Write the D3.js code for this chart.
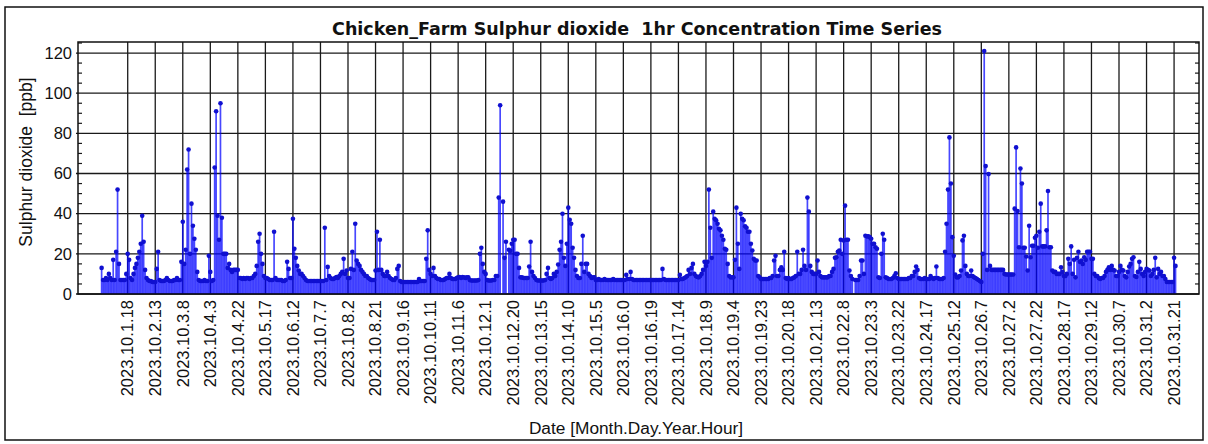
<!DOCTYPE html>
<html lang="en">
<head>
<meta charset="UTF-8" />
<script src="https://d3js.org/d3.v7.min.js"></script>
<title>SO2 time series</title>
<style>
    body { margin: 0; overflow: hidden; background: white; }
    text { font-family: "Liberation Sans", Arial, sans-serif; fill: #111; }
</style>
</head>
<body>
<script>
const chartTitle = "Chicken_Farm Sulphur dioxide  1hr Concentration Time Series";
const yTitle = "Sulphur dioxide  [ppb]";
const xTitle = "Date [Month.Day.Year.Hour]";

// one label every 19 hourly samples, first one at sample 18
const tickLabels = [
    "2023.10.1.18", "2023.10.2.13", "2023.10.3.8", "2023.10.4.3", "2023.10.4.22",
    "2023.10.5.17", "2023.10.6.12", "2023.10.7.7", "2023.10.8.2", "2023.10.8.21",
    "2023.10.9.16", "2023.10.10.11", "2023.10.11.6", "2023.10.12.1", "2023.10.12.20",
    "2023.10.13.15", "2023.10.14.10", "2023.10.15.5", "2023.10.16.0", "2023.10.16.19",
    "2023.10.17.14", "2023.10.18.9", "2023.10.19.4", "2023.10.19.23", "2023.10.20.18",
    "2023.10.21.13", "2023.10.22.8", "2023.10.23.3", "2023.10.23.22", "2023.10.24.17",
    "2023.10.25.12", "2023.10.26.7", "2023.10.27.2", "2023.10.27.22", "2023.10.28.17",
    "2023.10.29.12", "2023.10.30.7", "2023.10.31.2", "2023.10.31.21"
];
const yTicks = [0, 20, 40, 60, 80, 100, 120];

// hourly SO2 [ppb] (null = no sample)
const so2 = [
    13, 7, 7, 8, 7, 10, 8, 7, 17, 7, 21, 52, 15, 7, 7, 7, 7, 10,
    20, 17, 8, 7, 10, 13, 15, 18, 21, 25, 39, 26, 12, 8, 7, 6.5, 6.5, 6, 6,
    6, 12.5, 21, 7, 6.5, 6.5, 6.5, 7, 8, 7, 6.5, 6.5, 6.5, 7, 7, 8, 7, 7, 16,
    36, 15, 22, 62, 72, 20, 45, 34, 27.5, 22, 11, 7, 6.5, 6.5, 6.5, 7, 6.5, 6.5, 19,
    11, 6.5, 7, 63, 91, 39, 27, 95, 38, 20, 20, 20, 13, 15, 12, 11, 12, 12, 12,
    12, 8, 8, 7.5, 8, 7.5, 8, 8, 7.5, 8, 8, 9, 10, 14, 26, 30, 20, 15, 9,
    8, 8, 7.5, 7, 7, 7, 31, 8, 7, 7, 7, 7, 6.5, 6.5, 7, 16, 12.5, 8, 8,
    37.5, 22.5, 18, 14, 11.7, 10, 10, 9, 8, 7, 6.5, 6.5, 6.5, 6.5, 6.5, 6.5, 6.5, 6.5, 6.5,
    6.5, 6.5, 6.5, 33, 7, 13.5, 9, 8, 7.5, 7.5, 8, 8.5, 8, 9, 10, 11, 17.5, 10, 11.7,
    8, 8, 12.5, 21, 12, 35, 16.7, 15, 14, 12, 11, 10, 9, 9, 8, 7.5, 7, 7, 7,
    11.7, 31, 12, 27, 12, 10, 9, 9, 11, 9, 8, 7.5, 7, 7, 8, 12.5, 14, 6.5, 6,
    6, 6, 6, 6, 6, 6, 6, 6, 6, 6, 6, 7.5, 6.5, 6.5, 6.5, 6.5, 17.5, 31.7, 12,
    10, 9, 13, 9, 8, 7.5, 7.5, 7, 7, 7, 7.5, 8, 8, 10, 8, 7.5, 7.5, 7.5, 8,
    8.3, 8.5, 8, 8.5, 8.3, 8, 8.3, 8.3, 7, 6.7, 6.7, 6.7, 6.7, 6.7, 7, 20, 23, 15, 11,
    10, 7, 6.7, 6.7, 6.7, 7, 7, 9, 9, 48, 94, null, 46, 18, 26, null, 22, 21.5, 25,
    27, 27, 20, 20, 13, 8.3, 8.3, 8, 8, 8, 8, 13.7, 26, 11, 9, 8, 7, 6.7, 6.7,
    6.7, 6.7, 6.7, 7, 10, 13, 8, 7.5, 8, 10, 9, 11, 14.7, 22, 26, 40, 18, 14, 25,
    43, 37, 35, 23, 18, 12, 9, 8, 8, 15, 29, 11, 15, 15, 10, 9, 8, 8.3, 8.3,
    7, 7, 7.5, 7, 7, 7, 7.5, 7, 7, 7, 7, 7, 7.5, 7, 7, 7, 7, 7, 7,
    7, 7, 9.5, 7.5, 7.5, 11, 7.5, 7, 7, 7, 7, 7, 7, 7, 7, 7, 7, 7, 7,
    7, 7, 7, 7, 7, 7, 7, 7, 12.5, 7.5, 7, 7, 7, 7, 7, 7, 7, 7, 7,
    7, 9.5, 7.5, 7.5, 8, 8.3, 9, 12, 10, 13, 15, 10, 9, 8.5, 8.3, 9, 10, 12, 16,
    14, 16, 52, 33, 18, 41, 37.5, 36.7, 35, 32.5, 31.7, 29, 27, 22.5, 22, 15, 9, 8.3, 8.3,
    8.3, 17, 43, 25, 12.5, 40, 37.5, 36.7, 33.7, 33, 31, 31, 25, 21.7, 17.5, 16.7, 16.7, 9, 8.3,
    7.5, 7.5, 7.5, 7.5, 7.5, 7.5, 8, 8, 9, 16.7, 19, 9, 9, 12, 13.3, 12, 21, 8, 7.5,
    8, 7.5, 7.5, 8, 8.3, 9, 21, 10, 10, 12, 22, 14, 12, 48, 41, 14, 11, 10, 10,
    10, 16.7, 11, 9, 8.3, 8.3, 8.3, 8.3, 8.3, 9, 9, 11, 12.5, 18, 18.3, 21, 21.7, 27, 20,
    26.7, 44, 27, 27, 11.7, 9, 7.5, null, 7, 7, 7, 9, 16.7, 16.7, 10, 29, 28.7, 28.7, 28.3,
    27.5, 25, 25, 23.3, 22.5, 8.3, 8, 20, 30, 27, 8.3, 8, 7.5, 7.5, 7.5, 8, 9, 10.3, 8,
    7.5, 7.5, 7.5, 7.5, 7.5, 7.5, 7.5, 8, 8, 9, 9, 11, 13.7, 12, 8, 7.5, 7.5, 7.5, 8,
    7.5, 7.5, 7.5, 9, 8, 7.5, 8, 13.7, 8, 7.5, 7.5, 7.5, 8, 21, 35, 52, 78, 55, 28.3,
    19, 9.7, 8.3, 8.3, 9, 11.7, 26.7, 29, 14, 10, 9, 9, 11.7, 9, 8.3, 8, 7.5, 7, 6.5,
    6, 20, 121, 63.7, 12, 59.7, 14, 12, 12, 12, 12, 12, 12, 12, 12, 12, 10, 9.7, 9.7,
    9.7, 9.7, 9.7, 9.7, 42.5, 73, 41.3, 23.3, 62.5, 55, 23, 23, 18.7, 11.7, 34, 18.3, 24, 24, 28,
    29, 23, 31, 45, 23.7, 23.7, 23.7, 31.7, 51.3, 23.3, 23.3, 11.7, 11, 11, 10, 10, 10, 13.3, 11,
    9, 9, 10, 17.5, 15, 23.7, 10, 17, 8.3, 18, 21, 16, 16.7, 15, 18.3, 17, 21, 21, 21,
    17.5, 17.5, 10, 9, 9, 8, 7.5, 8, 8, 9, 11, 12, 13.3, 12, 14, 12, 11.7, 9, 9,
    11, 14, 12, 11.7, 9, 8.3, 11, 13.7, 15, 17.5, 18.3, 9, 8.5, 11, 16, 12.5, 10, 9, 11,
    12.5, 12, 11.7, 9, 10, 12, 18, 8.3, 12.5, 10, 11, 9, 9, 7.5, 6, 6, 6, 6, 6,
    18, 14
];

const width = 1208;
const height = 444;
const margin = { top: 42, right: 9, bottom: 150, left: 78 };

const svg = d3.select("body").append("svg")
    .attr("width", width)
    .attr("height", height);

// outer frame round the whole figure
svg.append("rect")
    .attr("x", 5).attr("y", 7)
    .attr("width", 1198).attr("height", 433)
    .attr("fill", "white")
    .attr("stroke", "#111")
    .attr("stroke-width", 1.5);

const x = d3.scaleLinear()
    .domain([-16.3, 757.2])
    .range([margin.left, width - margin.right]);

const y = d3.scaleLinear()
    .domain([0, 125.5])
    .range([height - margin.bottom, margin.top]);

const tickIdx = tickLabels.map((_, k) => 18 + 19 * k);

// grid
const grid = svg.append("g").attr("stroke", "#1a1a1a").attr("stroke-width", 1.3);
grid.selectAll(".vg").data(tickIdx).join("line")
    .attr("x1", d => x(d)).attr("x2", d => x(d))
    .attr("y1", y(0)).attr("y2", margin.top);
grid.selectAll(".hg").data(yTicks).join("line")
    .attr("x1", margin.left - 2).attr("x2", width - margin.right)
    .attr("y1", d => y(d)).attr("y2", d => y(d));

// minor ticks every 5 on both y sides
const minor = d3.range(5, 126, 5).filter(v => v % 20 !== 0);
const mt = svg.append("g").attr("stroke", "#1a1a1a").attr("stroke-width", 1.2);
mt.selectAll(".ml").data(minor).join("line")
    .attr("x1", margin.left).attr("x2", margin.left + 4)
    .attr("y1", d => y(d)).attr("y2", d => y(d));
mt.selectAll(".mr").data(minor).join("line")
    .attr("x1", width - margin.right).attr("x2", width - margin.right - 4)
    .attr("y1", d => y(d)).attr("y2", d => y(d));

// stems + markers
const pts = so2.map((v, i) => ({ i, v })).filter(d => d.v !== null);

svg.append("g")
    .selectAll("line")
    .data(pts)
    .join("line")
    .attr("x1", d => x(d.i)).attr("x2", d => x(d.i))
    .attr("y1", y(0)).attr("y2", d => y(d.v))
    .attr("stroke", "#0000ff")
    .attr("stroke-opacity", 0.72)
    .attr("stroke-width", 1.7);

svg.append("g")
    .selectAll("circle")
    .data(pts)
    .join("circle")
    .attr("cx", d => x(d.i))
    .attr("cy", d => y(d.v))
    .attr("r", 2.3)
    .attr("fill", "#1010d0");

// plot frame
svg.append("rect")
    .attr("x", margin.left).attr("y", margin.top)
    .attr("width", width - margin.right - margin.left)
    .attr("height", y(0) - margin.top)
    .attr("fill", "none")
    .attr("stroke", "#111")
    .attr("stroke-width", 1.5);

// y tick labels
svg.append("g").selectAll("text").data(yTicks).join("text")
    .attr("x", margin.left - 6)
    .attr("y", d => y(d))
    .attr("dy", "0.35em")
    .attr("text-anchor", "end")
    .style("font-size", "16.5px")
    .text(d => d);

// x tick labels, rotated
svg.append("g").selectAll("text").data(tickIdx).join("text")
    .attr("transform", (d) => `translate(${x(d)},${y(0) + 6}) rotate(-90)`)
    .attr("dy", "0.35em")
    .attr("text-anchor", "end")
    .style("font-size", "16.5px")
    .text((d, k) => tickLabels[k]);

// titles
svg.append("text")
    .attr("x", 637).attr("y", 35)
    .attr("text-anchor", "middle")
    .style("font-family", "'DejaVu Sans', Verdana, sans-serif")
    .style("font-weight", "bold")
    .style("font-size", "17.5px")
    .style("white-space", "pre")
    .text(chartTitle);

svg.append("text")
    .attr("transform", `translate(32,162) rotate(-90)`)
    .attr("text-anchor", "middle")
    .style("font-size", "17.5px")
    .style("white-space", "pre")
    .text(yTitle);

svg.append("text")
    .attr("x", 636).attr("y", 434)
    .attr("text-anchor", "middle")
    .style("font-size", "17.3px")
    .text(xTitle);
</script>
</body>
</html>
